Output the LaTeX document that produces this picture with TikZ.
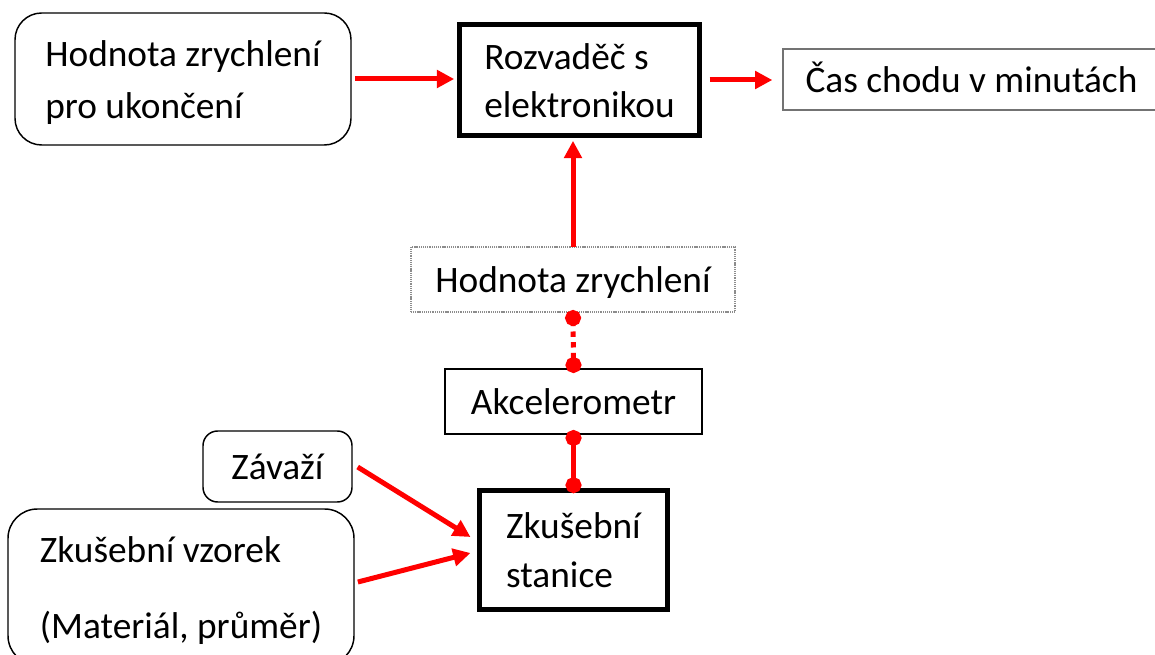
\documentclass[tikz,border=0pt]{standalone}
\usepackage{fontspec}
\setmainfont{Carlito}
\usetikzlibrary{arrows.meta,calc}
\newcommand\tline[1]{\raisebox{0pt}[24pt][4pt]{#1}}
\begin{document}
\begin{tikzpicture}[x=0.75pt,y=-0.75pt,
  every node/.style={font=\fontsize{28}{36.75}\selectfont, align=left, inner sep=0pt, outer sep=0pt},
  rbox/.style={draw=black, line width=1.1pt, rounded corners=#1},
  thickbox/.style={draw=black, line width=3.6pt},
  plainbox/.style={draw=black, line width=1.1pt},
  graybox/.style={draw=black!55, line width=0.9pt},
  dotbox/.style={draw=black!45, line width=0.9pt, dash pattern=on 0.8pt off 0.6pt},
  redarrow/.style={draw=red, line width=3.75pt, -{Triangle[length=13pt,width=13pt]}},
  dotconn/.style={draw=red, line width=3.75pt, {Circle[length=12pt]}-{Circle[length=12pt]}}
]
\clip (0,0) rectangle (1155,655);
\fill[white] (0,0) rectangle (1155,655);

\node[rbox=20pt, minimum width=252pt, minimum height=99pt] (b1) at (183,79)
  {\tline{Hodnota zrychlení}\\[2.25pt]\tline{pro ukončení}};
\node[thickbox, minimum width=180pt, minimum height=83.25pt] (rz) at (579.5,80)
  {\tline{Rozvaděč s}\\[-0.75pt]\tline{elektronikou}};
\node[graybox, minimum width=282.75pt, minimum height=45.75pt] (cas) at (971.5,79.5)
  {\tline{Čas chodu v minutách}};
\node[dotbox, minimum width=243pt, minimum height=48.75pt] (hz) at (573,279.5)
  {\tline{Hodnota zrychlení}};
\node[plainbox, minimum width=192.75pt, minimum height=48.75pt] (ak) at (573.5,401.5)
  {\tline{Akcelerometr}};
\node[rbox=11pt, minimum width=111.75pt, minimum height=53.25pt] (zav) at (277.5,466.5)
  {\tline{Závaží}};
\node[thickbox, minimum width=141pt, minimum height=89.25pt] (zs) at (573.5,550)
  {\tline{Zkušební}\\\tline{stanice}};
\node[rbox=22pt, minimum width=259.5pt, minimum height=117pt] (vz) at (181,587)
  {\tline{Zkušební vzorek}\\[20pt]\tline{(Materiál, průměr)}};

\draw[redarrow, shorten <=3pt, shorten >=4pt] (b1.east) -- (b1.east -| rz.west);
\draw[redarrow, shorten <=7.5pt, shorten >=8pt] (rz.east) -- (rz.east -| cas.west);
\draw[redarrow, shorten >=4pt] (hz.north) -- (hz.north |- rz.south);
\draw[dotconn, dash pattern=on 4pt off 4pt, dash phase=2pt, shorten <=-1.5pt, shorten >=-3pt] (hz.south) -- (ak.north);
\draw[dotconn, shorten <=-3pt, shorten >=-2pt] (ak.south) -- (zs.north);
\draw[redarrow, shorten <=5pt] ($(zav.east)+(0,-3)$) -- ($(zs.west)+(-9,-13)$);
\draw[redarrow, shorten <=3pt] ($(vz.east)+(0,-4)$) -- ($(zs.west)+(-9,3)$);
\end{tikzpicture}
\end{document}
